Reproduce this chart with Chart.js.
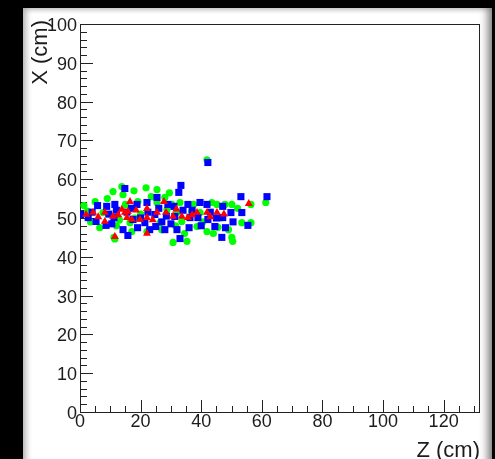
<!DOCTYPE html>
<html>
<head>
<meta charset="utf-8">
<script src="https://cdn.jsdelivr.net/npm/chart.js@4/dist/chart.umd.min.js"></script>
<style>
  html, body { margin: 0; padding: 0; background: #000; }
  #wrap { position: relative; width: 495px; height: 459px; overflow: hidden; }
  #pad {
    position: absolute; left: 23px; top: 8px; width: 469px; height: 460px;
    background: #fff;
    box-shadow: inset -9px 0 8px -5px #7a7a7a, inset 7px 0 6px -4px #b0b0b0, inset 0 6px 5px -4px #c8c8c8;
  }
  #hits { position: absolute; left: 0; top: 0; }
</style>
</head>
<body>
<div id="wrap">
  <div id="pad"></div>
  <canvas id="hits" width="495" height="459"></canvas>
</div>
<script>
// Hit positions, Z (cm) along the beam and X (cm) transverse
const zGreen = [1.3, 2.5, 5, 7.6, 10.9, 11.2, 12, 13.8, 14.2, 15, 16.5, 17.1, 19.1, 20, 21.8, 22.1, 25.4, 25.4, 26.4, 28, 28.7, 30.3, 30.7, 31.5, 33, 33.6, 35.3, 36.9, 38.6, 39.6, 41.9, 41.9, 43.5, 45.2, 45.5, 47.8, 50.1, 50.1, 50.4, 53.4, 56.4, 56.4, 61.3,
  3.5, 6.5, 9, 13, 18, 23.5, 27, 29.5, 32, 34.5, 37.5, 40.5, 44, 46.5, 49, 52, 11.5, 17.8];
const xGreen = [53.2, 51.8, 54.2, 51.4, 56.8, 45, 48, 58.1, 56, 53.5, 48.8, 46.5, 54.2, 51, 57.8, 46.5, 57.3, 54, 48.8, 55.3, 52.2, 53.5, 43.7, 48, 54, 49.1, 44, 51.7, 47.8, 51.4, 65, 46.5, 54, 53.5, 47.6, 53.5, 53.5, 45, 44, 48.8, 48.8, 53.5, 54,
  49, 47.5, 55, 49.5, 50, 55.5, 47, 56.5, 51.5, 46, 53.5, 49, 46, 50, 47, 52.5, 44.6, 57];

const zBlue = [0.2, 2.7, 5.3, 5.8, 8.8, 8.6, 11.5, 11.2, 14.8, 14.2, 15.8, 15.5, 17.5, 18.8, 19, 21.4, 22.1, 22.4, 24.7, 25.4, 25, 28, 29, 28.5, 31.3, 32, 32.6, 33.3, 33, 35.6, 36.3, 36, 38.9, 39.6, 41.9, 42.2, 42.2, 44.5, 47.1, 47.1, 49.8, 46.8, 53.1, 53.4, 55.4, 61.7,
  10.5, 12, 17, 20, 23, 26, 27, 30, 31, 34, 37, 40, 43, 45, 48, 50.5, 9.5, 4];
const xBlue = [50.9, 50.1, 49.1, 53.2, 53, 48.1, 53.5, 50.1, 57.6, 47, 45.5, 51.5, 49.6, 53.5, 47.5, 48.8, 54, 51.5, 50.9, 55.3, 47.8, 47, 53.5, 50.5, 50.4, 47, 56.6, 58.4, 44.7, 53.5, 50.1, 47.5, 50.1, 54, 53.5, 49.6, 64.3, 47.8, 53, 50.1, 51.4, 45, 55.5, 51.4, 48.1, 55.5,
  48.5, 52, 52.5, 50, 47, 52.5, 49, 48.5, 53, 52, 52, 48, 51.5, 50, 47.5, 49, 51, 51.5];

const zRed = [2, 4.3, 8.2, 8.2, 10.9, 11.5, 13.8, 14.8, 15.5, 16.5, 15.8, 17.1, 19.8, 22.1, 22.1, 22.1, 25.4, 27.7, 28.4, 30.7, 33.6, 35.6, 38.6, 41.9, 45.2, 55.7,
  6, 12.6, 18.5, 24, 31.8, 37, 43, 47.5];
const xRed = [50.9, 51.4, 51.4, 49.1, 50.4, 45.2, 52.2, 51.4, 50.1, 54.2, 51.7, 49.6, 49.6, 52.4, 50.1, 46, 51.4, 54.2, 51.4, 50.4, 50.4, 50.1, 51.4, 51.4, 51.4, 53.7,
  50.3, 50.8, 52, 49.5, 52.3, 50.8, 50.3, 51];

// Axis ranges and tick marks
const zMin = 0, zMax = 132;
const xMin = 0, xMax = 100;
const zTicks = [0, 20, 40, 60, 80, 100, 120];
const xTicks = [0, 10, 20, 30, 40, 50, 60, 70, 80, 90, 100];
const zMinorStep = 5;
const xMinorStep = 2;

function toPoints(zs, xs) {
  return zs.map((z, i) => ({ x: z, y: xs[i] }));
}

const labelFont = '18px "Liberation Sans", Arial, sans-serif';
const titleFont = '22px "Liberation Sans", Arial, sans-serif';
const inkColor = '#1c1c1c';

// ROOT-like frame: inward ticks, labels and axis titles
const frameAxes = {
  id: 'frameAxes',
  beforeDatasetsDraw(chart) {
    const ctx = chart.ctx;
    const area = chart.chartArea;
    const sx = chart.scales.x;
    const sy = chart.scales.y;

    ctx.save();
    ctx.strokeStyle = '#222';
    ctx.lineWidth = 1;
    ctx.strokeRect(area.left + 0.5, area.top + 0.5, area.right - area.left - 1, area.bottom - area.top);

    ctx.beginPath();
    for (let v = zMin; v <= zMax; v += zMinorStep) {
      const px = Math.round(sx.getPixelForValue(v)) + 0.5;
      const len = zTicks.includes(v) ? 12 : 6;
      ctx.moveTo(px, area.bottom);
      ctx.lineTo(px, area.bottom - len);
    }
    for (let v = xMin; v <= xMax; v += xMinorStep) {
      const py = Math.round(sy.getPixelForValue(v)) + 0.5;
      const len = xTicks.includes(v) ? 13 : 7;
      ctx.moveTo(area.left, py);
      ctx.lineTo(area.left + len, py);
    }
    ctx.stroke();

    ctx.fillStyle = inkColor;
    ctx.font = labelFont;
    ctx.textBaseline = 'alphabetic';
    ctx.textAlign = 'center';
    zTicks.forEach(v => {
      ctx.fillText(String(v), sx.getPixelForValue(v), area.bottom + 15);
    });
    ctx.textAlign = 'right';
    xTicks.forEach(v => {
      ctx.fillText(String(v), area.left - 3, sy.getPixelForValue(v) + 7);
    });

    ctx.font = titleFont;
    ctx.textAlign = 'right';
    ctx.fillText('Z (cm)', area.right, 457);

    ctx.translate(47, area.top - 4);
    ctx.rotate(-Math.PI / 2);
    ctx.textAlign = 'right';
    ctx.fillText('X (cm)', 0, 0);
    ctx.restore();
  }
};

new Chart(document.getElementById('hits'), {
  type: 'scatter',
  data: {
    datasets: [
      {
        label: 'red',
        data: toPoints(zRed, xRed),
        pointStyle: 'triangle',
        pointRadius: 4.6,
        backgroundColor: '#ff0000',
        borderColor: '#ff0000',
        borderWidth: 0,
        order: 0
      },
      {
        label: 'blue',
        data: toPoints(zBlue, xBlue),
        pointStyle: 'rect',
        pointRadius: 5,
        backgroundColor: '#0000ff',
        borderColor: '#0000ff',
        borderWidth: 0,
        order: 1
      },
      {
        label: 'green',
        data: toPoints(zGreen, xGreen),
        pointStyle: 'circle',
        pointRadius: 3.6,
        backgroundColor: '#00ff00',
        borderColor: '#00ff00',
        borderWidth: 0,
        order: 2
      }
    ]
  },
  options: {
    responsive: false,
    animation: false,
    devicePixelRatio: 1,
    layout: { padding: { left: 80, top: 24, right: 15, bottom: 47 } },
    plugins: { legend: { display: false }, tooltip: { enabled: false } },
    scales: {
      x: { type: 'linear', min: zMin, max: zMax, display: false },
      y: { type: 'linear', min: xMin, max: xMax, display: false }
    }
  },
  plugins: [frameAxes]
});
</script>
</body>
</html>
